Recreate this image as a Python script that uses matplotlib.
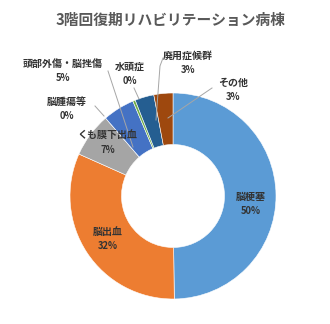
import matplotlib.pyplot as plt

plt.rcParams["font.family"] = ["Noto Sans CJK JP", "DejaVu Sans"]

# 3F recovery-phase rehab ward, breakdown by diagnosis (share of patients, %)
categories = ["脳梗塞", "脳出血", "くも膜下出血", "脳腫瘍等",
              "頭部外傷・脳挫傷", "水頭症", "廃用症候群", "その他"]
shares = [50, 32, 7, 0, 5, 0.4, 3, 3]
slice_colors = ["#5B9BD5", "#ED7D31", "#A5A5A5", "#FFC000",
                "#4472C4", "#70AD47", "#255E91", "#9E480E"]
title = "3階回復期リハビリテーション病棟"

W, H = 330, 324
cx, cy, r = 173, 196, 103


def to_data(px, py):
    return (px - cx) / r, (cy - py) / r


fig = plt.figure(figsize=(W / 100, H / 100), dpi=100)
ax = fig.add_axes([(cx - r) / W, (H - cy - r) / H, 2 * r / W, 2 * r / H])
ax.pie(shares, colors=slice_colors, startangle=90, counterclock=False,
       radius=1.0, wedgeprops=dict(width=0.5, edgecolor="white", linewidth=0.4))
ax.set_xlim(-1, 1)
ax.set_ylim(-1, 1)
ax.set_aspect("equal")
ax.axis("off")

# label anchor (name line centre) in pixels, and optional leader line
label_pos = [(251, 197), (108, 232), (108, 136), (67, 102),
             (63, 64), (130, 67), (188, 56), (233, 83)]
leaders = [None, None, None,
           [(95, 106), (104, 116)],
           [(108, 71), (133, 147)],
           [(134, 88), (139, 99)],
           [(163, 58), (160, 66), (156, 120)],
           [(212, 88), (168, 118)]]

total = sum(shares)
for name, val, (px, py), line in zip(categories, shares, label_pos, leaders):
    x, y = to_data(px, py)
    x2, y2 = to_data(px, py + 14)
    ax.text(x, y, name, ha="center", va="center", fontsize=7.2,
            fontweight="bold", color="#333333", clip_on=False)
    ax.text(x2, y2, f"{round(val / total * 100):d}%", ha="center", va="center",
            fontsize=6.8, fontweight="bold", color="#333333", clip_on=False)
    if line:
        xs, ys = zip(*[to_data(a, b) for a, b in line])
        ax.plot(xs, ys, color="#A6A6A6", linewidth=0.7, clip_on=False)

fig.text(171 / W, 1 - 20 / H, title, ha="center", va="center",
         fontsize=10.6, fontweight="bold", color="#595959")

fig.savefig("out.png", dpi=100)
